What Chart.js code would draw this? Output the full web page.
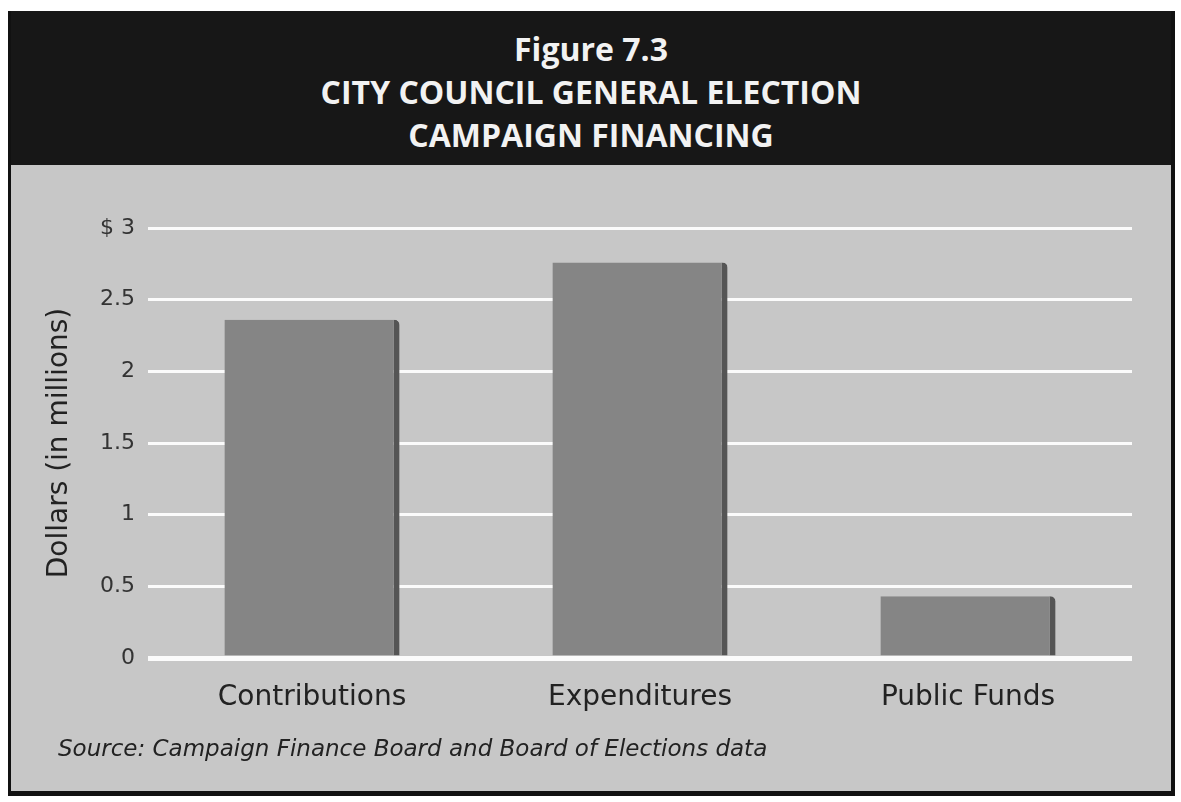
<!DOCTYPE html>
<html>
<head>
<meta charset="utf-8">
<script src="https://cdn.jsdelivr.net/npm/chart.js@4.4.0/dist/chart.umd.min.js"></script>
<style>
  body { margin: 0; background: #fff; width: 1181px; height: 802px; overflow: hidden; }
  #frame {
    position: absolute; left: 8px; top: 11px; width: 1160px; height: 780px;
    background: #c7c7c7;
    border-left: 3px solid #111; border-right: 4px solid #111; border-bottom: 5px solid #111;
  }
  #header {
    position: absolute; left: 0; top: 0; width: 100%; height: 154px;
    background: #171717; color: #f2f2f2;
    font-family: "Open Sans", sans-serif; font-weight: 700; font-size: 32px;
    text-align: center; line-height: 43px; padding-top: 16px; box-sizing: border-box;
  }
  #chartBox { position: absolute; left: 11px; top: 166px; }
  #source {
    position: absolute; left: 58px; top: 735px;
    font-family: "DejaVu Sans", sans-serif; font-style: italic; font-size: 23px; color: #222;
  }
</style>
</head>
<body>
<div id="frame">
  <div id="header">Figure 7.3<br>CITY COUNCIL GENERAL ELECTION<br>CAMPAIGN FINANCING</div>
</div>
<div id="chartBox"><canvas id="chart" width="1159" height="624"></canvas></div>
<div id="source">Source: Campaign Finance Board and Board of Elections data</div>
<script>
const categories = ["Contributions", "Expenditures", "Public Funds"];
const dollarsMillions = [2.36, 2.76, 0.43];
const yTickLabels = ["0", "0.5", "1", "1.5", "2", "2.5", "$ 3"];

const ctx = document.getElementById("chart").getContext("2d");
new Chart(ctx, {
  type: "bar",
  data: {
    labels: categories,
    datasets: [{
      data: dollarsMillions,
      backgroundColor: "#858585",
      borderColor: "#555555",
      borderWidth: { top: 0, right: 6, bottom: 0, left: 0 },
      borderSkipped: false,
      borderRadius: { topRight: 5, topLeft: 0, bottomLeft: 0, bottomRight: 0 },
      barPercentage: 0.534,
      categoryPercentage: 1,
    }],
  },
  options: {
    responsive: false,
    animation: false,
    devicePixelRatio: 1,
    layout: { padding: { top: 62, right: 38, bottom: 72, left: 0 } },
    plugins: { legend: { display: false }, tooltip: { enabled: false } },
    scales: {
      x: {
        grid: { display: false },
        border: { display: false },
        ticks: {
          color: "#222",
          padding: 15,
          font: { family: "DejaVu Sans", size: 28 },
        },
        afterFit: (scale) => { scale.height = 60; },
      },
      y: {
        min: 0,
        max: 3,
        border: { display: false },
        grid: {
          color: "#fbfbfb",
          drawTicks: false,
          lineWidth: (c) => (c.tick && c.tick.value === 0 ? 5 : 3),
        },
        ticks: {
          stepSize: 0.5,
          padding: 13,
          color: "#333",
          font: { family: "DejaVu Sans", size: 22 },
          callback: (value, index) => yTickLabels[index],
        },
        title: {
          display: true,
          text: "Dollars (in millions)",
          color: "#222",
          font: { family: "DejaVu Sans", size: 28 },
          padding: { top: 32, bottom: 0 },
        },
        afterFit: (scale) => { scale.width = 137; },
      },
    },
  },
});
</script>
</body>
</html>
